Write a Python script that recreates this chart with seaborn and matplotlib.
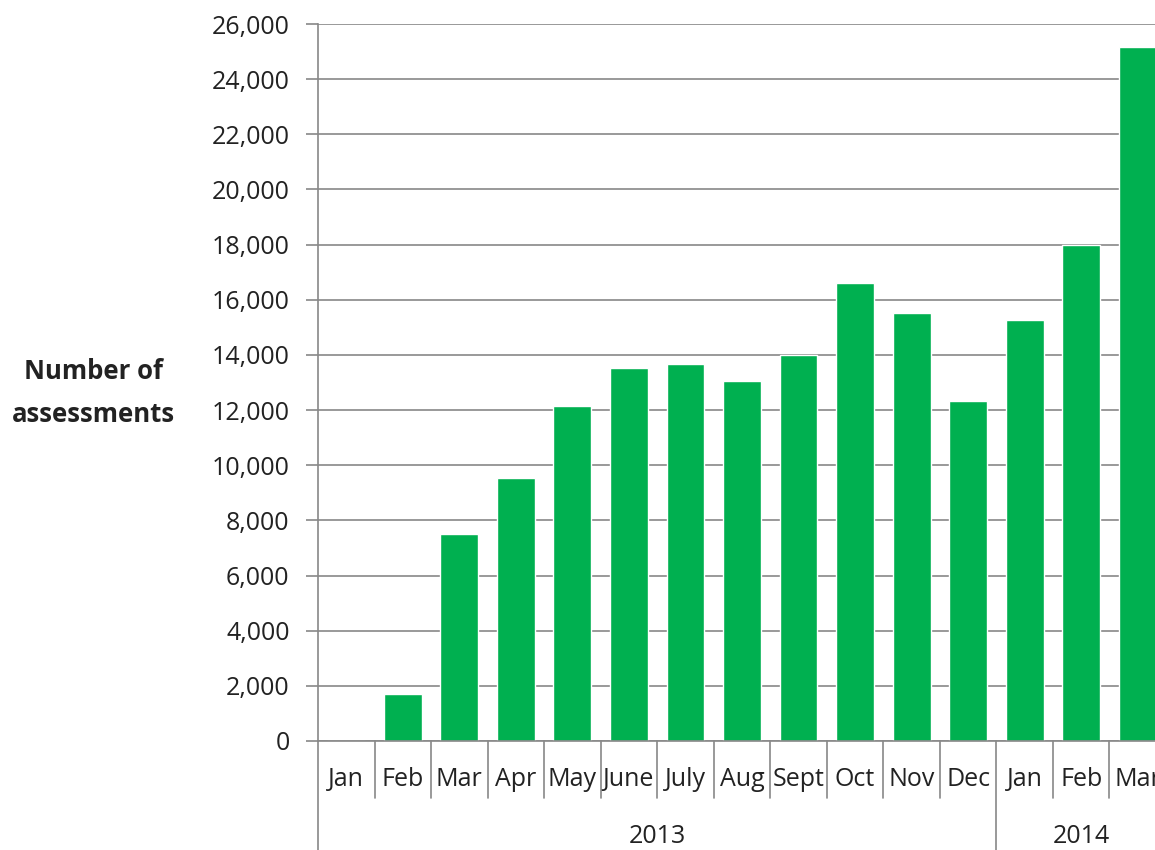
import matplotlib
matplotlib.use("Agg")
import matplotlib.pyplot as plt
from matplotlib.ticker import FuncFormatter, MultipleLocator
import seaborn as sns
import pandas as pd

# monthly assessments, Jan 2013 - Mar 2014
months = ["Jan", "Feb", "Mar", "Apr", "May", "June", "July", "Aug", "Sept",
          "Oct", "Nov", "Dec", "Jan", "Feb", "Mar"]
years = ["2013"] * 12 + ["2014"] * 3
assessments = [0, 1700, 7500, 9550, 12150, 13530, 13670, 13060, 14000,
               16620, 15530, 12340, 15280, 18000, 25150]

data = pd.DataFrame({"month": months, "year": years, "n": assessments})
data["key"] = data["month"] + " " + data["year"]

sns.set_style("white")
plt.rcParams["font.family"] = ["Open Sans", "DejaVu Sans"]

grey = "#888888"
ink = "#222222"
fs = 18

fig = plt.figure(figsize=(11.55, 8.5), dpi=100)
# right edge runs past the figure, like the cropped original
ax = fig.add_axes([318 / 1155, 109 / 850, 848 / 1155, 717 / 850])

sns.barplot(data=data, x="key", y="n", color="#00B050", width=0.67,
            saturation=1, ax=ax)

ax.set_ylim(0, 26000)
ax.set_xlim(-0.5, len(months) - 0.5)
ax.yaxis.set_major_locator(MultipleLocator(2000))
ax.yaxis.set_major_formatter(FuncFormatter(lambda v, p: f"{int(v):,}"))
ax.grid(axis="y", color=grey, linewidth=1.2)
ax.set_axisbelow(True)
for s in ["top", "right"]:
    ax.spines[s].set_visible(False)
for s in ["left", "bottom"]:
    ax.spines[s].set_color(grey)
    ax.spines[s].set_linewidth(1.2)

ax.tick_params(axis="y", left=True, length=8.5, width=1.2, color=grey,
               pad=12, labelsize=fs, labelcolor=ink)
ax.tick_params(axis="x", bottom=False, pad=15, labelsize=fs, labelcolor=ink)
ax.set_xticks(range(len(months)))
ax.set_xticklabels(months)
ax.set_xlabel("")
ax.set_ylabel("")

# category separators below the axis, longer ones between years
trans = ax.get_xaxis_transform()
bounds = [i - 0.5 for i in range(len(months))]
for b in bounds:
    long_line = b == -0.5 or years[int(b + 0.5)] != years[int(b - 0.5)]
    ax.plot([b, b], [0, -0.152 if long_line else -0.08], color=grey,
            linewidth=1.2, transform=trans, clip_on=False)

for yr in ["2013", "2014"]:
    idx = [i for i, y in enumerate(years) if y == yr]
    mid = (idx[0] - 0.5 + idx[-1] + 0.5) / 2
    ax.text(mid, -0.133, yr, transform=trans, ha="center", va="center",
            fontsize=fs, color=ink)

fig.text(93 / 1155, 1 - 393 / 850, "Number of\nassessments", ha="center",
         va="center", fontsize=18.5, fontweight="bold", color=ink,
         linespacing=1.8)

fig.savefig("out.png", dpi=100)
